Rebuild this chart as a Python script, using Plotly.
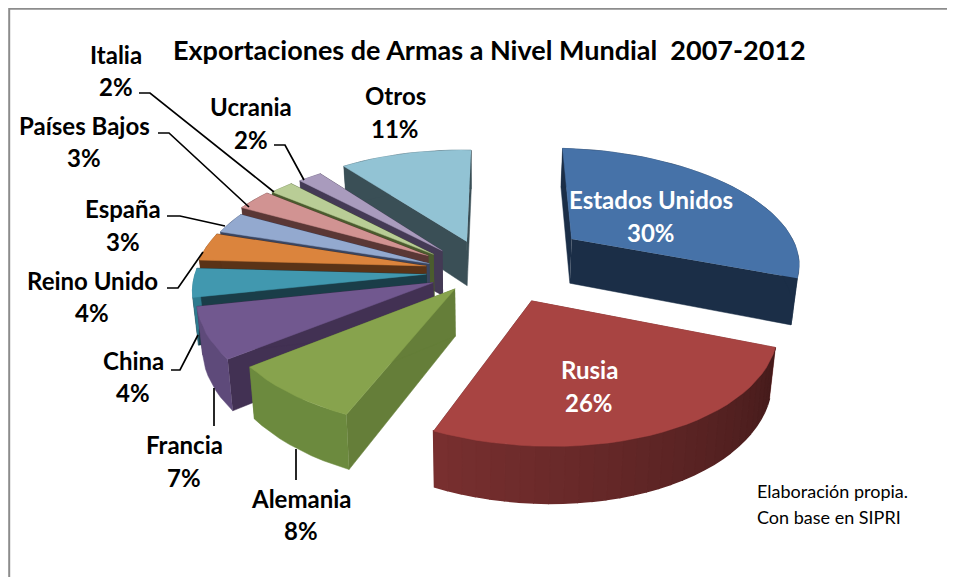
import math
import plotly.graph_objects as go

categories = ["Estados Unidos", "Rusia", "Alemania", "Francia", "China", "Reino Unido",
              "España", "Países Bajos", "Italia", "Ucrania", "Otros"]
values = [30, 26, 8, 7, 4, 4, 3, 3, 2, 2, 11]
top_colors = ["#4672A8", "#A84442", "#87A34D", "#71588F", "#4198AF", "#DB843D",
              "#93A9CF", "#D19392", "#B9CD96", "#A99BBD", "#92C3D4"]
face_colors = ["#1B2E47", "#6E2B2A", "#657E39", "#423153", "#1A3D48", "#5A3317",
               "#3A4560", "#5A3735", "#4B5C2E", "#443A55", "#3A4F56"]
rim_colors = ["#1B2E47", "#7A3030", "#6C8A3E", "#5E4A7A", "#2F7A8E", "#5A3317",
              "#3A4560", "#5A3735", "#4B5C2E", "#443A55", "#3A4F56"]
explosions = [0.42, 0.31, 0.22, 0.29, 0.29, 0.29, 0.29, 0.29, 0.29, 0.29, 0.29]
# extra displacement of each exploded slice on the pie plane (pixels right, pixels down)
nudges = [(-6, -6), (-3, -2), (-17, 0), (-9, 0), (-10, 3), (-11, 3),
          (-12, 8), (-19, 5), (-20, 8), (-17, 7), (-15, 3)]

label_pos = {
    "Italia": (116, 54, 116, 86), "Ucrania": (251, 106, 251, 139), "Otros": (395, 95, 395, 128),
    "Países Bajos": (84, 125, 84, 157), "España": (123, 208, 123, 241),
    "Reino Unido": (92, 280, 92, 312), "China": (133, 360, 133, 392),
    "Francia": (184, 444, 184, 477), "Alemania": (301, 498, 301, 530),
    "Estados Unidos": (651, 199, 651, 232), "Rusia": (589, 369, 589, 402),
}
leaders = [
    [(139, 93), (150, 93), (274, 192)],
    [(274, 145), (285, 145), (304, 180)],
    [(158, 133), (169, 133), (249, 207)],
    [(167, 216), (180, 216), (225, 226)],
    [(167, 288), (178, 288), (203, 252)],
    [(171, 370), (180, 370), (198, 335)],
    [(214, 388), (214, 426)],
    [(296, 449), (296, 480)],
]

# perspective model of the pie
A, ROT = 230.0, 3.0
X0, VX, VY, H, P, DEPTH = 503.0, 420.0, -478.0, 747.0, 0.151, 46.0
KEYSTONE = 0.02


def proj(X, Y, bottom=False):
    s = 1.0 / (1.0 + P * Y)
    x = VX + s * (X0 - VX + A * X)
    y = VY + s * (H + (DEPTH if bottom else 0))
    if bottom:
        x += (480 - x) * KEYSTONE
    return x, y


def mix(hexc, f):
    r, g, b = int(hexc[1:3], 16), int(hexc[3:5], 16), int(hexc[5:7], 16)
    return "rgb(%d,%d,%d)" % (r * f, g * f, b * f)


def poly(fig, pts, color, w=0.5):
    fig.add_trace(go.Scatter(x=[p[0] for p in pts], y=[p[1] for p in pts], mode="lines",
                             fill="toself", fillcolor=color,
                             line=dict(color=color, width=w), hoverinfo="skip", showlegend=False))


total = sum(values)
angles = [ROT]
for v in values:
    angles.append(angles[-1] + 360.0 * v / total)

fig = go.Figure()
order = [0, 10, 9, 8, 7, 6, 5, 4, 3, 2, 1]
for i in order:
    t0, t1 = angles[i], angles[i + 1]
    mid = math.radians((t0 + t1) / 2)
    ax = explosions[i] * math.sin(mid) + nudges[i][0] / A
    ay = explosions[i] * math.cos(mid) - nudges[i][1] / 125.0
    n = max(4, int((t1 - t0) / 3))
    arc = [math.radians(t0 + (t1 - t0) * k / n) for k in range(n + 1)]
    outer = [(ax + math.sin(a), ay + math.cos(a)) for a in arc]
    for edge in (outer[0], outer[-1]):
        poly(fig, [proj(ax, ay), proj(*edge), proj(*edge, True), proj(ax, ay, True)], face_colors[i])
    if categories[i] == "Rusia":
        for k in range(n):
            a, b = outer[k], outer[k + 1]
            poly(fig, [proj(*a), proj(*b), proj(*b, True), proj(*a, True)],
                 mix(rim_colors[i], 0.57 + 0.43 * k / n), 1.6)
    else:
        poly(fig, [proj(*p) for p in outer] + [proj(*p, True) for p in reversed(outer)], rim_colors[i])
    poly(fig, [proj(ax, ay)] + [proj(*p) for p in outer], top_colors[i])

for line in leaders:
    fig.add_trace(go.Scatter(x=[p[0] for p in line], y=[p[1] for p in line], mode="lines",
                             line=dict(color="black", width=1.7), hoverinfo="skip", showlegend=False))

annotations = [dict(x=489, y=49, text="Exportaciones de Armas a Nivel Mundial\u00a0 2007-2012",
                    font=dict(family="Lato", size=27, color="black", weight="bold"), showarrow=False)]
for name, v in zip(categories, values):
    x1, y1, x2, y2 = label_pos[name]
    col = "white" if name in ("Estados Unidos", "Rusia") else "black"
    for x, y, t in ((x1, y1, name), (x2, y2, "%d%%" % v)):
        annotations.append(dict(x=x, y=y, text=t, showarrow=False,
                                font=dict(family="Lato", size=24, color=col, weight="bold")))
for y, t in ((491, "Elaboración propia."), (517, "Con base en SIPRI")):
    annotations.append(dict(x=755, y=y, text=t, xanchor="left", showarrow=False,
                            font=dict(family="Lato", size=18, color="black")))

fig.update_layout(
    width=947, height=569, margin=dict(l=0, r=0, t=0, b=0), autosize=False,
    paper_bgcolor="white", plot_bgcolor="white", showlegend=False,
    xaxis=dict(range=[8, 955], visible=False, fixedrange=True),
    yaxis=dict(range=[577, 8], visible=False, fixedrange=True),
    annotations=annotations,
    shapes=[dict(type="line", x0=9.2, x1=9.2, y0=8, y1=577, line=dict(color="#8C8C8C", width=2)),
            dict(type="line", x0=9, x1=955, y0=8.8, y1=8.8, line=dict(color="#8C8C8C", width=2))],
)
fig.write_html("out.html", config=dict(displayModeBar=False))
